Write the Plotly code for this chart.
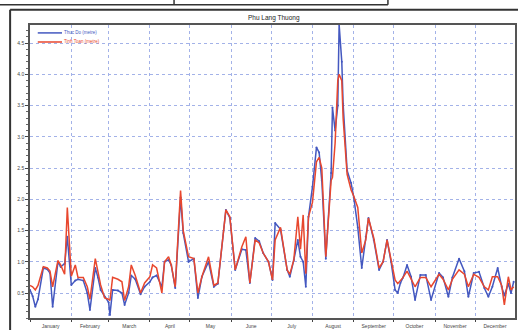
import datetime as dt
import plotly.graph_objects as go

# day of year (non-leap year) and water levels
days = [1, 3, 5, 7, 11, 14, 16, 18, 22, 24, 27, 29, 32, 35, 37, 41, 44, 46, 50, 52,
        54, 57, 60, 61, 63, 67, 70, 72, 75, 77, 80, 84, 87, 91, 93, 96, 100, 102, 105, 107,
        110, 114, 116, 120, 124, 127, 130, 135, 139, 142, 148, 151, 155, 160, 163, 166, 170, 173, 176, 180,
        183, 185, 189, 194, 196, 199, 202, 204, 206, 208, 210, 213, 216, 218, 220, 223, 227, 228, 230, 232,
        233, 235, 236, 239, 242, 244, 247, 250, 253, 255, 259, 263, 266, 269, 272, 275, 277, 279, 281, 284,
        287, 290, 294, 298, 302, 308, 311, 315, 318, 323, 327, 330, 334, 338, 342, 345, 348, 352, 355, 357,
        360, 362, 364]

thuc_do = [0.55, 0.45, 0.28, 0.40, 0.90, 0.88, 0.82, 0.28, 1.00, 0.92, 0.97, 1.40, 0.63, 0.70, 0.72, 0.70, 0.50, 0.23, 0.90, 0.75,
           0.55, 0.44, 0.35, 0.15, 0.55, 0.54, 0.50, 0.31, 0.50, 0.78, 0.72, 0.48, 0.60, 0.68, 0.75, 0.78, 0.60, 1.00, 1.03, 0.95,
           0.58, 2.03, 1.46, 1.00, 1.05, 0.42, 0.76, 1.00, 0.60, 0.65, 1.83, 1.70, 0.87, 1.20, 1.19, 0.66, 1.38, 1.33, 1.14, 1.00,
           0.71, 1.62, 1.52, 0.87, 0.76, 1.03, 1.35, 1.08, 1.00, 0.60, 1.72, 2.20, 2.83, 2.75, 2.30, 1.05, 2.42, 3.47, 3.10, 3.50,
           4.80, 4.20, 3.53, 2.46, 2.26, 2.03, 1.55, 0.90, 1.40, 1.70, 1.35, 0.87, 1.00, 1.35, 1.00, 0.55, 0.50, 0.66, 0.75, 0.95,
           0.76, 0.39, 0.79, 0.79, 0.39, 0.82, 0.75, 0.44, 0.75, 1.05, 0.85, 0.44, 0.82, 0.84, 0.58, 0.44, 0.60, 0.90, 0.60, 0.46,
           0.65, 0.50, 0.68]

tinh_toan = [0.62, 0.60, 0.55, 0.62, 0.92, 0.90, 0.85, 0.60, 1.02, 0.95, 0.80, 1.87, 0.77, 0.95, 0.75, 0.75, 0.60, 0.40, 1.05, 0.85,
             0.63, 0.42, 0.40, 0.38, 0.75, 0.72, 0.68, 0.38, 0.60, 0.95, 0.78, 0.50, 0.66, 0.76, 0.95, 0.90, 0.50, 1.00, 1.08, 0.95,
             0.60, 2.14, 1.50, 1.08, 1.05, 0.50, 0.76, 1.08, 0.62, 0.66, 1.83, 1.72, 0.87, 1.24, 1.40, 0.66, 1.35, 1.30, 1.14, 1.00,
             0.71, 1.35, 1.55, 0.87, 0.80, 1.03, 1.72, 1.20, 1.75, 0.81, 1.72, 1.95, 2.60, 2.67, 2.50, 1.08, 2.30, 2.35, 2.90, 3.90,
             4.00, 3.90, 3.30, 2.40, 2.15, 2.05, 1.87, 1.14, 1.35, 1.70, 1.38, 0.90, 1.00, 1.35, 1.05, 0.71, 0.65, 0.70, 0.75, 0.85,
             0.72, 0.60, 0.75, 0.75, 0.60, 0.80, 0.72, 0.55, 0.72, 0.87, 0.80, 0.60, 0.80, 0.75, 0.60, 0.55, 0.76, 0.76, 0.62, 0.31,
             0.76, 0.55, 0.60]

y_ticks = [0.5, 1.0, 1.5, 2.0, 2.5, 3.0, 3.5, 4.0, 4.5]
series_names = ["Thuc Do (metre)", "Tinh Toan (metre)"]
series_colors = ["#4458c0", "#e8472e"]

base = dt.date(2009, 1, 1)
dates = [base + dt.timedelta(days=d - 1) for d in days]

fig = go.Figure()
fig.add_trace(go.Scatter(x=dates, y=thuc_do, name=series_names[0], mode="lines+markers",
                         line=dict(color=series_colors[0], width=1.5), marker=dict(size=2, color=series_colors[0])))
fig.add_trace(go.Scatter(x=dates, y=tinh_toan, name=series_names[1], mode="lines",
                         line=dict(color=series_colors[1], width=1.5)))

# frame lines of the scanned page
dark = dict(color="#333", width=1.5)
shapes = [
    dict(type="line", xref="paper", yref="paper", x0=-0.07, x1=0.738, y0=1.069, y1=1.069, line=dark),
    dict(type="line", xref="paper", yref="paper", x0=0.297, x1=0.297, y0=1.069, y1=1.1, line=dark),
    dict(type="line", xref="paper", yref="paper", x0=0.738, x1=0.738, y0=1.069, y1=1.1, line=dark),
    dict(type="line", xref="paper", yref="paper", x0=-0.041, x1=1.02, y0=1.052, y1=1.052, line=dict(color="#333", width=2)),
    dict(type="line", xref="paper", yref="paper", x0=-0.041, x1=-0.041, y0=1.052, y1=-0.1, line=dict(color="#333", width=2)),
]
# hand-made compact legend (plotly's legend rows are too tall at this size)
annotations = []
for i, (name, col) in enumerate(zip(series_names, series_colors)):
    yy = 0.973 - i * 0.031
    shapes.append(dict(type="line", xref="paper", yref="paper", x0=0.016, x1=0.066, y0=yy, y1=yy,
                       line=dict(color=col, width=1.5)))
    annotations.append(dict(text=name, xref="paper", yref="paper", x=0.067, y=yy, xanchor="left",
                            yanchor="middle", showarrow=False, font=dict(size=4.5, color=col)))
annotations.append(dict(text="Phu Lang Thuong", xref="paper", yref="paper", x=0.503, y=1.0,
                        xanchor="center", yanchor="bottom", yshift=1, showarrow=False,
                        font=dict(size=6.5, color="#222")))

fig.update_layout(
    width=518, height=330,
    margin=dict(l=30, r=3, t=25, b=12, autoexpand=False),
    paper_bgcolor="white", plot_bgcolor="white",
    font=dict(family="Liberation Sans", size=5, color="#444"),
    showlegend=False,
    shapes=shapes, annotations=annotations,
)
fig.update_xaxes(type="date", range=[dt.date(2009, 1, 1), dt.date(2009, 12, 31)],
                 dtick="M1", tick0="2009-01-01", tickformat="%B", ticklabelmode="period",
                 showgrid=True, gridcolor="#a3b2e8", griddash="dot", gridwidth=1,
                 ticks="outside", ticklen=2, tickcolor="#444", automargin=False,
                 showline=True, linecolor="#555", linewidth=1.5, mirror=True, zeroline=False)
fig.update_yaxes(range=[0.1, 4.79], tickvals=y_ticks, tickformat=".1f", automargin=False,
                 showgrid=True, gridcolor="#a3b2e8", griddash="dot", gridwidth=1,
                 ticks="outside", ticklen=3, tickcolor="#444",
                 minor=dict(dtick=0.1, ticks="outside", ticklen=2, tickcolor="#666", showgrid=False),
                 showline=True, linecolor="#555", linewidth=1.5, mirror=True, zeroline=False)

# the page's default 8px body margin would shift the figure
fig.write_html("out.html", config={"displayModeBar": False},
               post_script="document.body.style.margin='0';")
